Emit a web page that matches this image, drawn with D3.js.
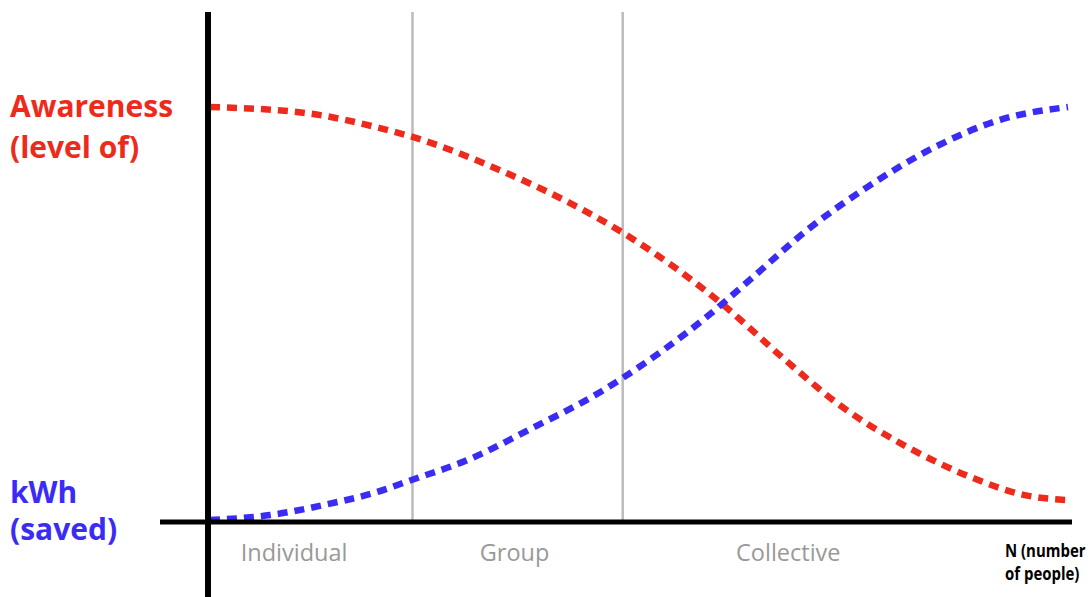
<!DOCTYPE html>
<html><head><meta charset="utf-8">
<script src="https://cdn.jsdelivr.net/npm/d3@7"></script>
<style>body{margin:0;background:#fff}svg{display:block}</style>
</head><body>
<svg id="c" width="1090" height="597"></svg>
<script>
// Awareness (level of), 0..100, against N position (0..100)
const awarenessN = [0, 11.3, 19.8, 23.7, 33.8, 43.9, 48.0, 59.8, 66.8, 73.4, 80.8, 88.9, 94.8, 100];
const awareness  = [100, 98.5, 94.9, 92.7, 84.7, 74.6, 69.7, 52.1, 39.2, 27.8, 18.2, 10.2, 6.1, 4.8];
// kWh saved, 0..100, against N position (0..100)
const kwhN   = [0, 7.0, 13.2, 19.5, 23.5, 30.0, 37.6, 45.5, 48.1, 57.9, 62.9, 69.6, 76.6, 84.3, 92.1, 100];
const kwhSaved = [0, 1.2, 3.6, 6.8, 9.7, 14.5, 22.3, 31.0, 34.4, 49.2, 58.1, 70.2, 80.6, 90.1, 96.9, 100];
// Phase boundaries along N and phase labels
const boundaries = [23.6, 48.1];
const phases = ["Individual", "Group", "Collective"];
const phaseCenters = [9.8, 35.5, 67.4];

const svg = d3.select("#c");
const x = d3.scaleLinear().domain([0, 100]).range([210, 1068]);
const y = d3.scaleLinear().domain([0, 100]).range([520, 107]);

// phase separators
svg.selectAll("line.sep").data(boundaries).join("line")
  .attr("x1", d => x(d)).attr("x2", d => x(d))
  .attr("y1", 12).attr("y2", 522)
  .attr("stroke", "#bbb").attr("stroke-width", 2.5);

const line = d3.line().x(d => x(d[0])).y(d => y(d[1])).curve(d3.curveMonotoneX);

svg.append("path").datum(awarenessN.map((n, i) => [n, awareness[i]]))
  .attr("d", line).attr("fill", "none").attr("stroke", "#ee2a1c")
  .attr("stroke-width", 6.5).attr("stroke-dasharray", "10,7");
svg.append("path").datum(kwhN.map((n, i) => [n, kwhSaved[i]]))
  .attr("d", line).attr("fill", "none").attr("stroke", "#3b2cf5")
  .attr("stroke-width", 6.5).attr("stroke-dasharray", "10,7");

// axes
svg.append("line").attr("x1", 160).attr("x2", 1072).attr("y1", 522).attr("y2", 522)
  .attr("stroke", "#000").attr("stroke-width", 5);
svg.append("line").attr("x1", 208).attr("x2", 208).attr("y1", 12).attr("y2", 597)
  .attr("stroke", "#000").attr("stroke-width", 6);

// phase labels
svg.selectAll("text.ph").data(phases).join("text")
  .attr("x", (d, i) => x(phaseCenters[i])).attr("y", 561)
  .attr("text-anchor", "middle").attr("fill", "#999")
  .attr("font-family", "'Open Sans', sans-serif").attr("font-size", 23.5)
  .text(d => d);

// y labels
const lab = (t, yy, col) => svg.append("text").attr("x", 10).attr("y", yy)
  .attr("fill", col).attr("font-family", "'Open Sans', sans-serif")
  .attr("font-weight", "bold").attr("font-size", 30).text(t);
lab("Awareness", 117, "#ee2a1c");
lab("(level of)", 158, "#ee2a1c");
lab("kWh", 503, "#3b2cf5");
lab("(saved)", 540, "#3b2cf5");

const nl = (t, yy) => svg.append("text")
  .attr("transform", `translate(1005,${yy}) scale(0.88,1)`)
  .attr("fill", "#000").attr("font-family", "'Open Sans', sans-serif")
  .attr("font-weight", "bold").attr("font-size", 17).text(t);
nl("N (number", 557);
nl("of people)", 580);
</script>
</body></html>
